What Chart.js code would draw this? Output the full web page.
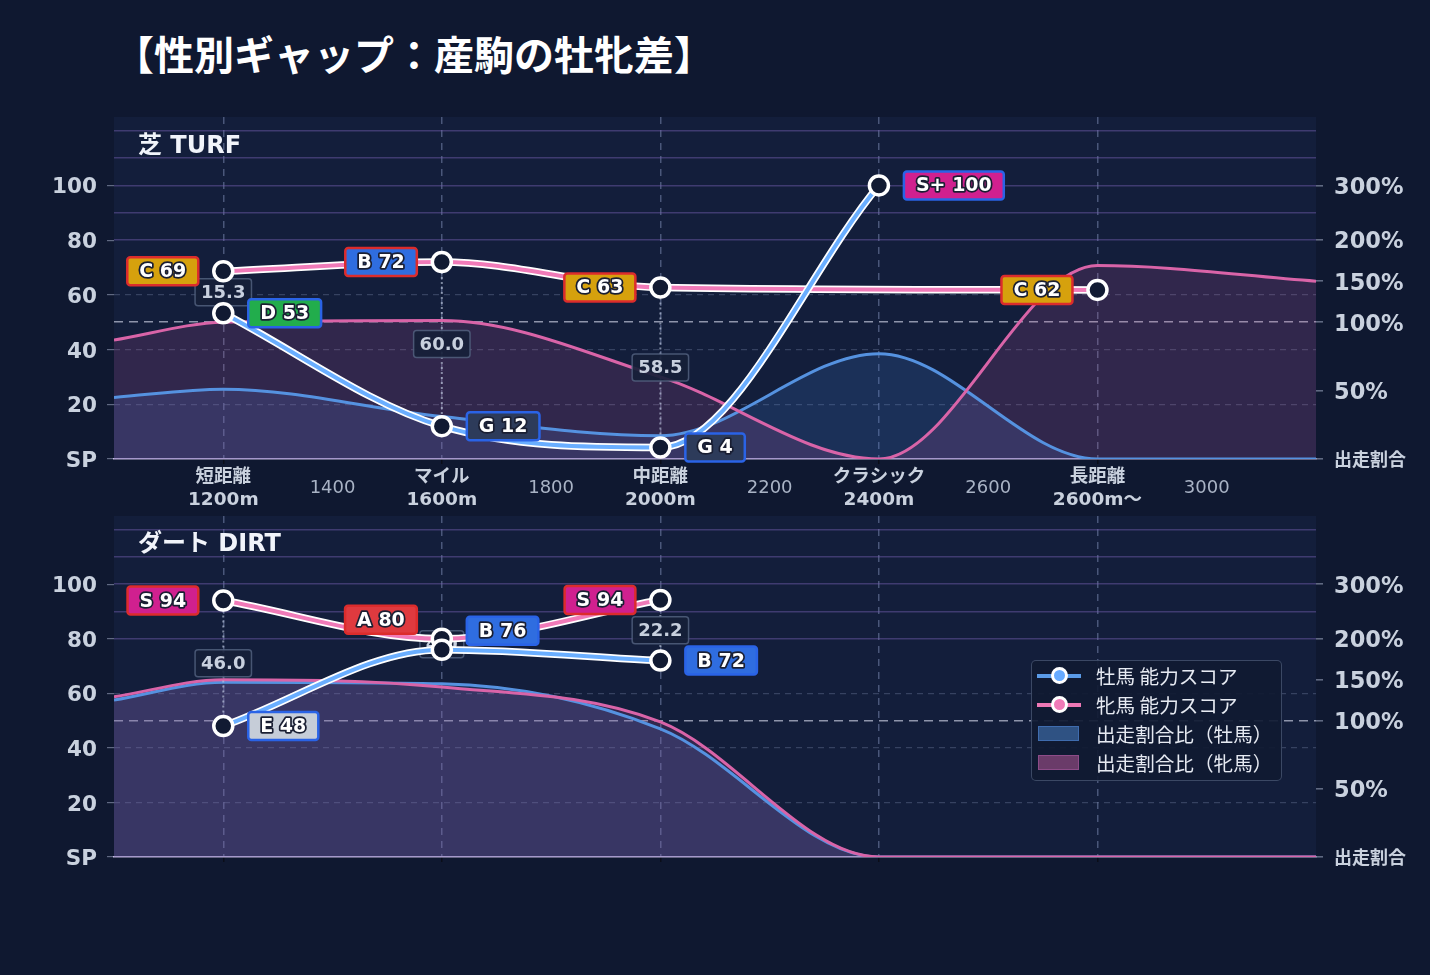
<!DOCTYPE html>
<html lang="ja">
<head>
<meta charset="utf-8">
<title>性別ギャップ：産駒の牡牝差</title>
<script src="https://cdn.jsdelivr.net/npm/chart.js@4.4.1/dist/chart.umd.min.js"></script>
<style>
  body { margin: 0; background: #0f1830; }
  #page { position: relative; width: 1430px; height: 975px; overflow: hidden; font-family: "DejaVu Sans", "Noto Sans CJK JP", sans-serif; }
  h1 { position: absolute; left: 114px; top: 25px; margin: 0; font: bold 40px "Noto Sans CJK JP", sans-serif; color: #fff; line-height: 56px; white-space: nowrap; }
  .panel-title { position: absolute; left: 138px; font: bold 24px "DejaVu Sans", "Noto Sans CJK JP", sans-serif; color: #f1f4fa; line-height: 30px; white-space: nowrap; }
  canvas { position: absolute; left: 0; }
  #legend { position: absolute; left: 1031px; top: 660px; width: 251px; height: 121px; box-sizing: border-box; background: rgba(16, 26, 50, 0.92); border: 1.5px solid rgba(75, 88, 118, 0.75); border-radius: 5px; padding: 0 0 0 5px; font: 19.6px "Noto Sans CJK JP", sans-serif; color: #e6eaf2; }
  .lg { height: 29px; display: flex; align-items: center; white-space: nowrap; }
  .ico { width: 44px; height: 17px; position: relative; margin-right: 15px; flex: none; }
  .ico.line::before { content: ''; position: absolute; left: 0; right: 0; top: 6.5px; height: 4px; background: var(--c); }
  .ico.line::after { content: ''; position: absolute; left: 13.5px; top: 0; width: 11px; height: 11px; border: 3px solid #fff; border-radius: 50%; background: var(--c2); }
  .ico.box::before { content: ''; position: absolute; left: 1px; top: 1px; width: 39px; height: 13px; background: var(--c); border: 1.5px solid var(--c2); }
</style>
</head>
<body>
<div id="page">
  <h1>【性別ギャップ：産駒の牡牝差】</h1>
  <canvas id="turf" width="1430" height="415" style="top:100px"></canvas>
  <canvas id="dirt" width="1430" height="400" style="top:500px"></canvas>
  <div class="panel-title" style="top:130px">芝 TURF</div>
  <div class="panel-title" style="top:528px">ダート DIRT</div>
  <div id="legend">
    <div class="lg"><span class="ico line" style="--c:#5a9be8;--c2:#66aaff"></span>牡馬 能力スコア</div>
    <div class="lg"><span class="ico line" style="--c:#ee78b6;--c2:#f07ab8"></span>牝馬 能力スコア</div>
    <div class="lg"><span class="ico box" style="--c:#2f5283;--c2:#3f6cae"></span>出走割合比（牡馬）</div>
    <div class="lg"><span class="ico box" style="--c:#6a3b69;--c2:#8d4c88"></span>出走割合比（牝馬）</div>
  </div>
</div>
<script>
// distances (m) of the score points and of the ratio curve points
const SCORE_DIST = [1200, 1600, 2000, 2400, 2800];
const RATIO_DIST = [1000, 1200, 1600, 2000, 2400, 2800, 3200];

// 芝 TURF
const turfMaleScore = [53.3, 12.0, 4.2, 100, null];
const turfFemaleScore = [68.6, 72.0, 62.7, null, 61.8];
const turfMaleRatio = [45, 51, 31, 17, 77, 0, 0];
const turfFemaleRatio = [87, 100, 102, 60, 0, 169, 150];

// ダート DIRT
const dirtMaleScore = [48.0, 76.0, 72.0, null, null];
const dirtFemaleScore = [94.0, 80.0, 94.2, null, null];
const dirtMaleRatio = [125, 147, 145, 94, 0, 0, 0];
const dirtFemaleRatio = [129, 150, 141, 99, 0, 0, 0];

// x axis tick labels
const MAJOR_DIST = [1200, 1600, 2000, 2400, 2800];
const majorLabels = [['短距離', '1200m'], ['マイル', '1600m'], ['中距離', '2000m'], ['クラシック', '2400m'], ['長距離', '2600m〜']];
const MINOR_DIST = [1400, 1800, 2200, 2600, 3000];
const minorLabels = ['1400', '1800', '2200', '2600', '3000'];

// left axis (score) ticks
const scoreTicks = [0, 20, 40, 60, 80, 100];
const bandTicks = [80, 90, 100, 110, 120];

// right axis: ratio % and where it sits on the score scale
const ratioTicks = [0, 50, 100, 150, 200, 300];
const ratioTickPos = [0, 25, 50, 65, 80, 100];
const ratioTickLabels = ['出走割合', '50%', '100%', '150%', '200%', '300%'];

const FONT = '"DejaVu Sans", "Noto Sans CJK JP", sans-serif';
Chart.defaults.font.family = FONT;

function ratioToPos(r) {
  for (let i = 1; i < ratioTicks.length; i++) {
    if (r <= ratioTicks[i]) {
      const t = (r - ratioTicks[i - 1]) / (ratioTicks[i] - ratioTicks[i - 1]);
      return ratioTickPos[i - 1] + t * (ratioTickPos[i] - ratioTickPos[i - 1]);
    }
  }
  return ratioTickPos[ratioTickPos.length - 1];
}

const tickVal = c => (c && c.tick ? c.tick.value : NaN);

const gradeOf = s => s >= 97 ? 'S+' : s >= 90 ? 'S' : s >= 80 ? 'A' : s >= 70 ? 'B' : s >= 60 ? 'C' : s >= 50 ? 'D' : s >= 40 ? 'E' : s >= 30 ? 'F' : 'G';
const GRADE_FILL = { 'S+': '#d0208f', S: '#d0208f', A: '#df3a3f', B: '#2f6de0', C: '#d6a10d', D: '#22ad4c', E: '#c6cdd8', F: '#7a8599', G: '#2d3b5a' };
const SEX_BORDER = { female: '#dc2c2c', male: '#2a63e6' };

const plotBg = {
  id: 'plotBg',
  beforeDraw(chart) {
    const { ctx, chartArea: a } = chart;
    ctx.save();
    ctx.fillStyle = '#131e3b';
    ctx.fillRect(a.left, a.top, a.width, a.height);
    ctx.restore();
  }
};

// dotted connector + gap value between the two score points
const scoreGap = {
  id: 'scoreGap',
  afterDatasetDraw(chart, args, opts) {
    if (!chart.data.datasets[args.index].gapLayer) return;
    const { ctx, scales: { x, y } } = chart;
    SCORE_DIST.forEach((d, i) => {
      const f = opts.female[i], m = opts.male[i];
      if (f == null || m == null) return;
      const px = x.getPixelForValue(d), pf = y.getPixelForValue(f), pm = y.getPixelForValue(m);
      ctx.save();
      ctx.strokeStyle = 'rgba(195,205,225,0.6)';
      ctx.lineWidth = 2;
      ctx.setLineDash([2, 3]);
      ctx.beginPath();
      ctx.moveTo(px, pf);
      ctx.lineTo(px, pm);
      ctx.stroke();
      ctx.setLineDash([]);
      const txt = Math.abs(f - m).toFixed(1);
      ctx.font = 'bold 18px ' + FONT;
      const w = ctx.measureText(txt).width + 12, h = 27, cy = (pf + pm) / 2;
      ctx.beginPath();
      ctx.roundRect(px - w / 2, cy - h / 2, w, h, 3);
      ctx.fillStyle = 'rgba(22,32,56,0.92)';
      ctx.fill();
      ctx.strokeStyle = 'rgba(85,100,130,0.8)';
      ctx.lineWidth = 1.5;
      ctx.stroke();
      ctx.fillStyle = '#c8d0de';
      ctx.textAlign = 'center';
      ctx.textBaseline = 'middle';
      ctx.fillText(txt, px, cy + 1);
      ctx.restore();
    });
  }
};

// grade tags next to each score point (lifted when the two points crowd)
const scoreTags = {
  id: 'scoreTags',
  afterDatasetsDraw(chart, args, opts) {
    const { ctx, scales: { x, y } } = chart;
    [['female', opts.female], ['male', opts.male]].forEach(([sex, arr]) => {
      arr.forEach((s, i) => {
        if (s == null) return;
        const g = gradeOf(s);
        const txt = g + ' ' + Math.round(s);
        const f = opts.female[i], m = opts.male[i];
        const crowded = f != null && m != null && Math.abs(f - m) < 8;
        const px = x.getPixelForValue(SCORE_DIST[i]);
        const py = y.getPixelForValue(s) - (crowded ? 19 : 0);
        ctx.save();
        ctx.font = 'bold 19px ' + FONT;
        const w = ctx.measureText(txt).width + 24, h = 28;
        const left = sex === 'female' ? px - 25 - w : px + 25;
        ctx.beginPath();
        ctx.roundRect(left, py - h / 2, w, h, 3);
        ctx.fillStyle = GRADE_FILL[g];
        ctx.fill();
        ctx.strokeStyle = SEX_BORDER[sex];
        ctx.lineWidth = 2.5;
        ctx.stroke();
        ctx.textAlign = 'center';
        ctx.textBaseline = 'middle';
        ctx.lineJoin = 'round';
        ctx.strokeStyle = '#1a1f33';
        ctx.lineWidth = 3.5;
        ctx.strokeText(txt, left + w / 2, py + 1);
        ctx.fillStyle = '#ffffff';
        ctx.fillText(txt, left + w / 2, py + 1);
        ctx.restore();
      });
    });
  }
};

function buildChart(id, maleScore, femaleScore, maleRatio, femaleRatio, padTop, xHeight, showX) {
  const pts = ys => SCORE_DIST.map((d, i) => ({ x: d, y: ys[i] }));
  const ratioPts = ys => RATIO_DIST.map((d, i) => ({ x: d, y: ratioToPos(ys[i]) }));
  const scoreLine = (ys, color, width, outline, order) => ({
    data: pts(ys), yAxisID: 'y', borderColor: color, borderWidth: width, spanGaps: true,
    cubicInterpolationMode: 'monotone', fill: false, order,
    pointRadius: outline ? 0 : 9.5, pointBorderWidth: 3.5, pointBorderColor: '#ffffff',
    pointBackgroundColor: '#111a32'
  });
  const isMajor = c => MAJOR_DIST.includes(tickVal(c));

  return new Chart(document.getElementById(id), {
    type: 'line',
    data: {
      datasets: [
        { label: '出走割合比（牡馬）', data: ratioPts(maleRatio), yAxisID: 'y1', borderColor: '#5592e0', backgroundColor: 'rgba(60,120,200,0.21)', fill: 'origin', borderWidth: 3, pointRadius: 0, cubicInterpolationMode: 'monotone', order: 6 },
        { label: '出走割合比（牝馬）', data: ratioPts(femaleRatio), yAxisID: 'y1', borderColor: '#d964a8', backgroundColor: 'rgba(200,90,160,0.17)', fill: 'origin', borderWidth: 3, pointRadius: 0, cubicInterpolationMode: 'monotone', order: 5, gapLayer: true },
        scoreLine(femaleScore, '#ffffff', 7.5, true, 4),
        Object.assign(scoreLine(femaleScore, '#f07ab8', 4, false, 3), { label: '牝馬 能力スコア' }),
        scoreLine(maleScore, '#ffffff', 7.5, true, 2),
        Object.assign(scoreLine(maleScore, '#6aaeff', 4, false, 1), { label: '牡馬 能力スコア' })
      ]
    },
    options: {
      responsive: false,
      animation: false,
      layout: { padding: { top: padTop, left: 0, right: 0, bottom: 0 } },
      plugins: {
        legend: { display: false },
        tooltip: { enabled: false },
        filler: { drawTime: 'beforeDatasetsDraw' },
        scoreGap: { male: maleScore, female: femaleScore },
        scoreTags: { male: maleScore, female: femaleScore }
      },
      scales: {
        x: {
          type: 'linear', min: 1000, max: 3200,
          afterBuildTicks: s => { s.ticks = MAJOR_DIST.concat(MINOR_DIST).sort((a, b) => a - b).map(v => ({ value: v })); },
          afterFit: s => { s.height = xHeight; s.paddingLeft = 0; s.paddingRight = 0; },
          grid: {
            color: c => isMajor(c) ? 'rgba(120,135,175,0.55)' : 'transparent',
            lineWidth: 1.5,
            tickColor: c => isMajor(c) ? 'rgba(10,12,22,0.9)' : 'transparent',
            tickLength: 5
          },
          border: { display: true, color: 'rgba(215,205,245,0.85)', width: 1.5, dash: [7, 6] },
          ticks: {
            display: showX, autoSkip: false, maxRotation: 0, padding: 13, crossAlign: 'center',
            color: c => isMajor(c) ? '#c9d1de' : '#a9b3c5',
            font: c => isMajor(c) ? { size: 18.5, weight: 'bold', lineHeight: 1.25 } : { size: 18, lineHeight: 1.28 },
            callback: v => {
              const i = MAJOR_DIST.indexOf(v);
              if (i >= 0) return majorLabels[i];
              const j = MINOR_DIST.indexOf(v);
              return j >= 0 ? minorLabels[j] : '';
            }
          }
        },
        y: {
          position: 'left', min: 0, max: 125,
          afterBuildTicks: s => { s.ticks = scoreTicks.map(v => ({ value: v })); },
          afterFit: s => { s.width = 114; s.paddingTop = 0; s.paddingBottom = 0; },
          grid: {
            color: c => [20, 40, 60].includes(tickVal(c)) ? 'rgba(120,135,170,0.35)' : 'transparent',
            lineWidth: 1.2, tickColor: 'rgba(150,160,185,0.6)', tickLength: 7
          },
          border: { display: false, dash: [6, 5] },
          ticks: {
            padding: 10, labelOffset: 2.5, color: '#c9d1de', font: { size: 21.5, weight: 'bold' },
            callback: v => v === 0 ? 'SP' : String(v)
          }
        },
        yBand: {
          position: 'left', min: 0, max: 125,
          afterBuildTicks: s => { s.ticks = bandTicks.map(v => ({ value: v })); },
          afterFit: s => { s.width = 0; s.paddingTop = 0; s.paddingBottom = 0; },
          grid: { color: 'rgba(118,95,178,0.45)', lineWidth: 1.5, drawTicks: false },
          border: { display: false },
          ticks: { display: false }
        },
        y1: {
          position: 'right', min: 0, max: 125,
          afterBuildTicks: s => { s.ticks = ratioTickPos.map(v => ({ value: v })); },
          afterFit: s => { s.width = 114; s.paddingTop = 0; s.paddingBottom = 0; },
          grid: {
            color: c => tickVal(c) === 50 ? 'rgba(195,200,220,0.7)' : 'transparent',
            lineWidth: 1.6, tickColor: 'rgba(150,160,185,0.6)', tickLength: 7
          },
          border: { display: false, dash: [9, 6] },
          ticks: {
            padding: 11, labelOffset: 2.5, color: '#c9d1de',
            font: c => tickVal(c) === 0 ? { size: 18, weight: 'bold' } : { size: 22.5, weight: 'bold' },
            callback: v => ratioTickLabels[ratioTickPos.indexOf(v)]
          }
        }
      }
    },
    plugins: [plotBg, scoreGap, scoreTags]
  });
}

buildChart('turf', turfMaleScore, turfFemaleScore, turfMaleRatio, turfFemaleRatio, 17, 56, true);
buildChart('dirt', dirtMaleScore, dirtFemaleScore, dirtMaleRatio, dirtFemaleRatio, 16, 43, false);
</script>
</body>
</html>
